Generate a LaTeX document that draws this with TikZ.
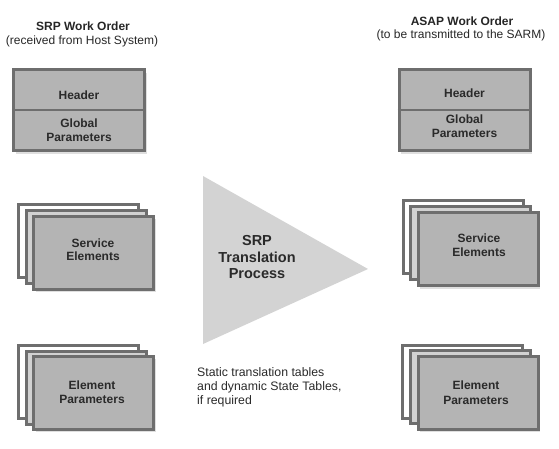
\documentclass[tikz,border=0pt]{standalone}
\usepackage{fontspec}
\setmainfont{Liberation Sans}
\usetikzlibrary{shadows}
\definecolor{bordergray}{HTML}{6E6E6E}
\definecolor{boxfill}{HTML}{B4B4B4}
\definecolor{midfill}{HTML}{D2D2D2}
\definecolor{trifill}{HTML}{D3D3D3}
\definecolor{txt}{HTML}{2A2A2A}
\begin{document}
\begin{tikzpicture}[x=1pt,y=-1pt,
  card/.style={draw=bordergray, line width=3pt, minimum width=120pt, minimum height=73pt, inner sep=0pt},
  frontcard/.style={card, fill=boxfill, drop shadow={shadow xshift=2pt, shadow yshift=-3pt, opacity=0.25}},
  midcard/.style={card, fill=midfill},
  backcard/.style={card, fill=white},
  headbox/.style={draw=bordergray, line width=3pt, fill=boxfill, minimum width=131pt, minimum height=81pt, inner sep=0pt, drop shadow={shadow xshift=2pt, shadow yshift=-3pt, opacity=0.25}},
  lbl/.style={font=\fontsize{12}{14}\selectfont\bfseries, text=txt, inner sep=0pt, anchor=base},
  ttl/.style={font=\fontsize{12}{14}\selectfont\bfseries, text=black!85, inner sep=0pt, anchor=base},
  sub/.style={font=\fontsize{12}{14}\selectfont, text=black!85, inner sep=0pt, anchor=base},
  note/.style={font=\fontsize{12.3}{14}\selectfont, text=txt, inner sep=0pt, anchor=base west},
  big/.style={font=\fontsize{14.5}{16}\selectfont\bfseries, text=txt, inner sep=0pt, anchor=base}
]
\useasboundingbox (0,0) rectangle (559,448);

% titles
\node[ttl] (t1) at (83,30) {SRP Work Order};
\node[sub] (t1b) at (82,44) {(received from Host System)};
\node[ttl] (t2) at (462,25) {ASAP Work Order};
\node[sub] (t2b) at (461,38) {(to be transmitted to the SARM)};

% left header
\node[headbox] (lh) at (79,110) {};
\draw[bordergray, line width=1.2pt] (lh.west) -- (lh.east);
\node[lbl] (lhh) at (79,99) {Header};
\node[lbl] (lhg) at (79,127) {Global};
\node[lbl] (lhp) at (79,141) {Parameters};

% right header
\node[headbox] (rh) at (464.5,110) {};
\draw[bordergray, line width=1.2pt] (rh.west) -- (rh.east);
\node[lbl] (rhh) at (464.5,97.5) {Header};
\node[lbl] (rhg) at (464.5,123) {Global};
\node[lbl] (rhp) at (464.5,137) {Parameters};

% left service elements
\node[backcard] (ls1) at (78.5,241) {};
\node[midcard] (ls2) at (86.5,247) {};
\node[frontcard] (ls3) at (93.5,252.5) {};
\node[lbl] (ls3a) at (93,247) {Service};
\node[lbl] (ls3b) at (93,260) {Elements};

% right service elements
\node[backcard] (rs1) at (463,236.5) {};
\node[midcard] (rs2) at (470.5,242.5) {};
\node[frontcard] (rs3) at (478,249) {};
\node[lbl] (rs3a) at (479,242) {Service};
\node[lbl] (rs3b) at (479,256) {Elements};

% left element parameters
\node[backcard] (le1) at (78.5,381.5) {};
\node[midcard] (le2) at (86.5,387.5) {};
\node[frontcard] (le3) at (93.5,392.5) {};
\node[lbl] (le3a) at (92,389) {Element};
\node[lbl] (le3b) at (92,403) {Parameters};

% right element parameters
\node[backcard] (re1) at (462.5,381.5) {};
\node[midcard] (re2) at (470.5,387) {};
\node[frontcard] (re3) at (478,392.5) {};
\node[lbl] (re3a) at (476,389) {Element};
\node[lbl] (re3b) at (476,404) {Parameters};

% translation triangle
\coordinate (ta) at (203,176);
\coordinate (tb) at (368,269);
\coordinate (tc) at (203,344);
\fill[trifill] (ta) -- (tb) -- (tc) -- cycle;
\node[big] (p1) at (257,245) {SRP};
\node[big] (p2) at (257,262) {Translation};
\node[big] (p3) at (257,278) {Process};

% note
\node[note] (n1) at (197,376) {Static translation tables};
\node[note] (n2) at (197,390) {and dynamic State Tables,};
\node[note] (n3) at (197,404) {if required};
\end{tikzpicture}
\end{document}
